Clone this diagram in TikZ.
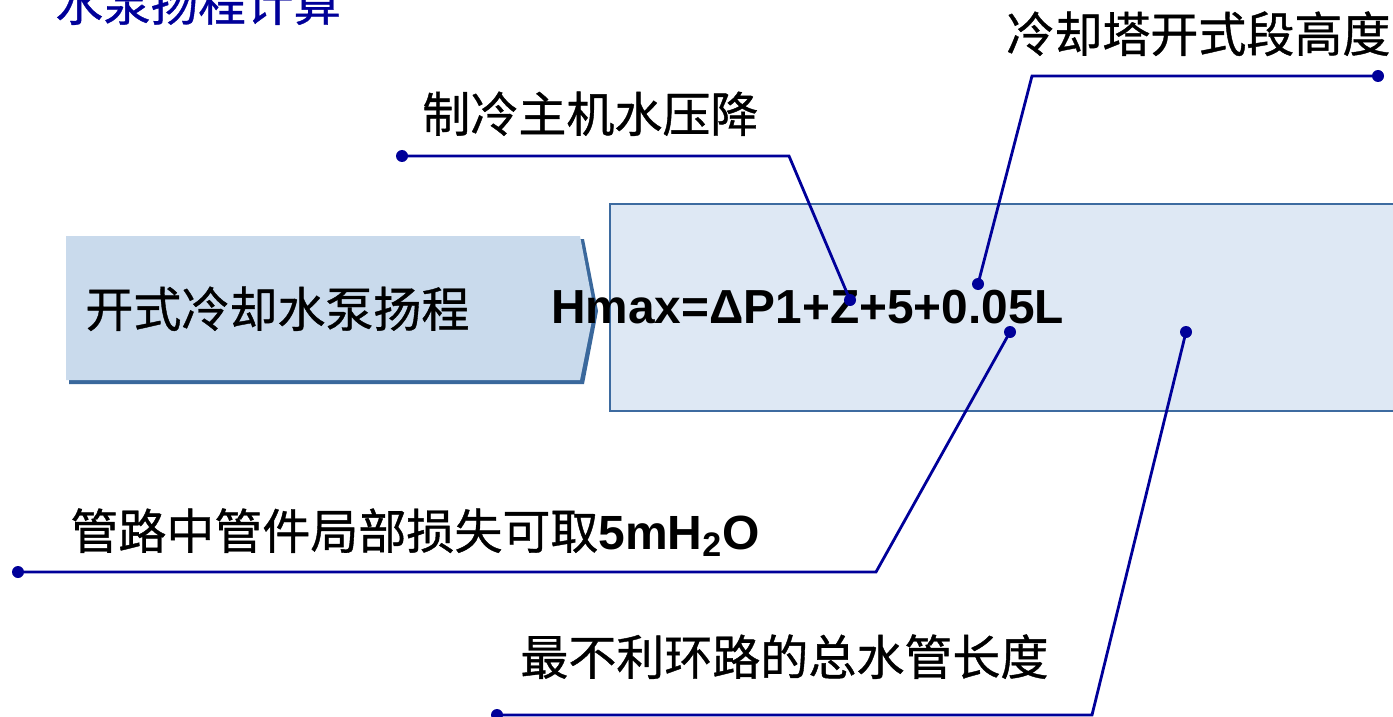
\documentclass[tikz,border=0pt]{standalone}
\usepackage{fontspec}
\setmainfont{Liberation Sans}
\newfontfamily\cjk[FakeBold=0.8]{Noto Sans CJK SC}
\newfontfamily\arl{Liberation Sans}
\definecolor{navy}{RGB}{0,0,153}
\definecolor{chevfill}{RGB}{201,218,236}
\definecolor{chevedge}{RGB}{58,104,156}
\definecolor{boxfill}{RGB}{222,232,244}
\definecolor{boxedge}{RGB}{61,107,160}
\begin{document}
\begin{tikzpicture}[x=0.5pt,y=-0.5pt,
  lab/.style={inner sep=0pt, anchor=base west, font=\fontsize{24pt}{28pt}\selectfont\cjk},
  formula/.style={inner sep=0pt, anchor=base west, font=\fontsize{23.9pt}{28pt}\selectfont\arl\bfseries},
  leader/.style={draw=navy, line width=1.4pt, line join=miter},
  enddot/.style={fill=navy}]
\useasboundingbox (0,0) rectangle (1393,717);

% title (cut at top)
\node[lab, text=navy, font=\fontsize{23.8pt}{28pt}\selectfont\cjk] (title) at (55,21) {水泵扬程计算};

% big formula box
\draw[fill=boxfill, draw=boxedge, line width=1pt] (610,204) rectangle (1398,411);

% chevron with shadow
\fill[chevedge] (69,239) -- (584,239) -- (598,311) -- (584,384) -- (69,384) -- cycle;
\fill[chevfill] (66,236) -- (580,236) -- (594,310) -- (580,380) -- (66,380) -- cycle;
\node[lab] (chev) at (85,327) {开式冷却水泵扬程};

% formula
\node[formula] (f) at (551,323) {Hmax=ΔP1+Z+5+0.05L};

% labels
\node[lab] (l1) at (422,132) {制冷主机水压降};
\node[lab] (l2) at (1006,52) {冷却塔开式段高度};
\node[lab] (l3) at (70,549) {管路中管件局部损失可取{\arl\bfseries 5mH\textsubscript{\fontsize{17pt}{20pt}\selectfont 2}O}};
\node[lab] (l4) at (520,675) {最不利环路的总水管长度};

% leader coordinates
\coordinate (a1) at (402,156);
\coordinate (b1) at (789,156);
\coordinate (e1) at (850,300);
\coordinate (a2) at (1378,76);
\coordinate (b2) at (1032,76);
\coordinate (e2) at (978,284);
\coordinate (a3) at (18,572);
\coordinate (b3) at (876,572);
\coordinate (e3) at (1010,332);
\coordinate (a4) at (497,715);
\coordinate (b4) at (1092,715);
\coordinate (e4) at (1186,332);

\draw[leader] (a1) -- (b1) -- (e1);
\draw[leader] (a2) -- (b2) -- (e2);
\draw[leader] (a3) -- (b3) -- (e3);
\draw[leader] (a4) -- (b4) -- (e4);
\foreach \p in {a1,e1,a2,e2,a3,e3,a4,e4}
  \fill[enddot] (\p) circle (3pt);
\end{tikzpicture}
\end{document}
